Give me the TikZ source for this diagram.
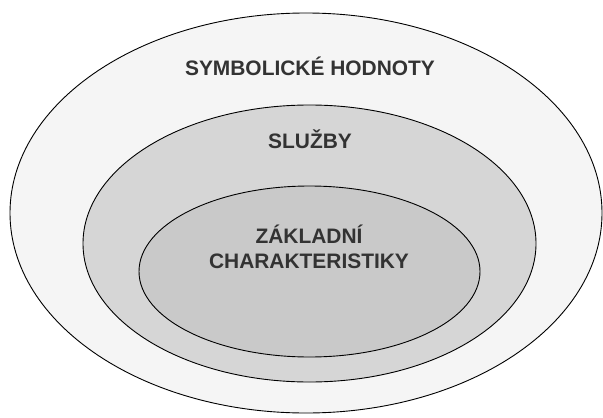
\documentclass[tikz,border=0pt]{standalone}
\usepackage{fontspec}
\setmainfont{Liberation Sans}
\usepackage{tikz}

\definecolor{ringout}{gray}{0.96}
\definecolor{ringmid}{gray}{0.84}
\definecolor{ringin}{gray}{0.79}
\definecolor{inktext}{gray}{0.2}

\tikzset{
	ring/.style={draw=black, line width=0.9bp},
	lbl/.style={anchor=base, text=inktext, inner sep=0pt,
		font=\bfseries\fontsize{21}{24}\selectfont}
}

\begin{document}
\begin{tikzpicture}[x=1bp, y=1bp]
	\useasboundingbox (0,0) rectangle (603,417);
	\coordinate (O) at (306,204);
	\coordinate (M) at (309.5,173.5);
	\coordinate (I) at (309.5,145.5);
	\draw[ring, fill=ringout] (O) ellipse (296bp and 200bp);
	\draw[ring, fill=ringmid] (M) ellipse (226.5bp and 138.5bp);
	\draw[ring, fill=ringin] (I) ellipse (170.5bp and 85.5bp);
	\node[lbl] (hodnoty) at (310,342) {SYMBOLICKÉ HODNOTY};
	\node[lbl] (sluzby) at (310,269) {SLUŽBY};
	\node[lbl] (zakladni) at (309,174) {ZÁKLADNÍ};
	\node[lbl] (charakt) at (309,149) {CHARAKTERISTIKY};
\end{tikzpicture}
\end{document}
